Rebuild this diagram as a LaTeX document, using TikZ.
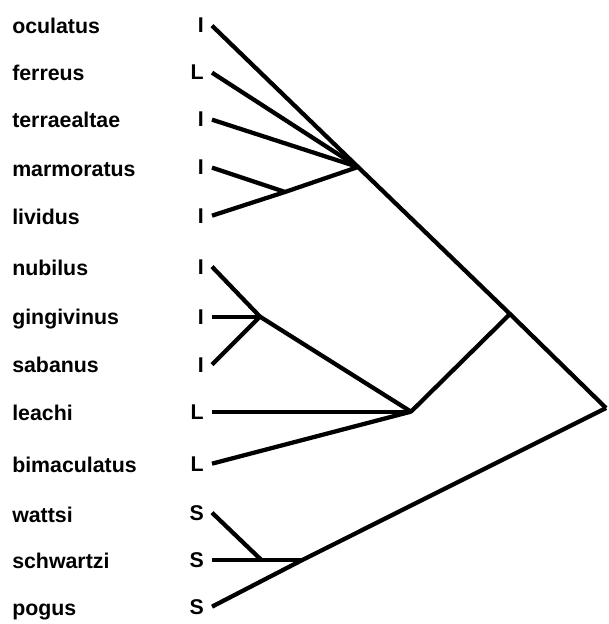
\documentclass[tikz,border=0pt]{standalone}
\usepackage{fontspec}
\setmainfont{Liberation Sans}
\begin{document}
\begin{tikzpicture}[x=0.75pt,y=-0.75pt,
  taxon/.style={anchor=base west,inner sep=0pt,font=\fontsize{16}{18}\selectfont\bfseries},
  habit/.style={anchor=base east,inner ysep=0pt,inner xsep=6pt,font=\fontsize{16}{18}\selectfont\bfseries},
  branch/.style={black,line width=3.2pt,line join=round}]
\useasboundingbox (0,0) rectangle (608,624);
\node[taxon] (ocu) at (12,34) {oculatus};
\node[taxon] (fer) at (12,81) {ferreus};
\node[taxon] (ter) at (12,128) {terraealtae};
\node[taxon] (mar) at (12,176) {marmoratus};
\node[taxon] (liv) at (12,224) {lividus};
\node[taxon] (nub) at (12,275) {nubilus};
\node[taxon] (gin) at (12,324) {gingivinus};
\node[taxon] (sab) at (12,372) {sabanus};
\node[taxon] (lea) at (12,420) {leachi};
\node[taxon] (bim) at (12,472) {bimaculatus};
\node[taxon] (wat) at (12,522) {wattsi};
\node[taxon] (sch) at (12,568) {schwartzi};
\node[taxon] (pog) at (12,615) {pogus};
\node[habit] (ocu-h) at (212,33) {I};
\node[habit] (fer-h) at (212,80) {L};
\node[habit] (ter-h) at (212,127) {I};
\node[habit] (mar-h) at (212,175) {I};
\node[habit] (liv-h) at (212,223) {I};
\node[habit] (nub-h) at (212,274) {I};
\node[habit] (gin-h) at (212,324) {I};
\node[habit] (sab-h) at (212,372) {I};
\node[habit] (lea-h) at (212,419) {L};
\node[habit] (bim-h) at (212,471) {L};
\node[habit] (wat-h) at (212,520) {S};
\node[habit] (sch-h) at (212,567) {S};
\node[habit] (pog-h) at (212,614) {S};
\coordinate (A) at (358,167);
\coordinate (B) at (285,192);
\path (gin-h.east) ++(48,0) coordinate (C);
\path (lea-h.east) ++(199,0) coordinate (D);
\coordinate (E) at (510,314);
\path (sch-h.east) ++(49,0) coordinate (F);
\path (sch-h.east) ++(91,0) coordinate (G);
\coordinate (root) at (606,408);
\draw[branch] (ocu-h.east) -- (A) -- (E) -- (root);
\draw[branch] (fer-h.east) -- (A);
\draw[branch] (ter-h.east) -- (A);
\draw[branch] (mar-h.east) -- (B);
\draw[branch] (liv-h.east) -- (B) -- (A);
\draw[branch] (nub-h.east) -- (C);
\draw[branch] (gin-h.east) -- (C);
\draw[branch] (sab-h.east) -- (C);
\draw[branch] (C) -- (D) -- (E);
\draw[branch] (lea-h.east) -- (D);
\draw[branch] (bim-h.east) -- (D);
\draw[branch] (wat-h.east) -- (F);
\draw[branch] (sch-h.east) -- (F) -- (G);
\draw[branch] (pog-h.east) -- (G) -- (root);
\end{tikzpicture}
\end{document}
